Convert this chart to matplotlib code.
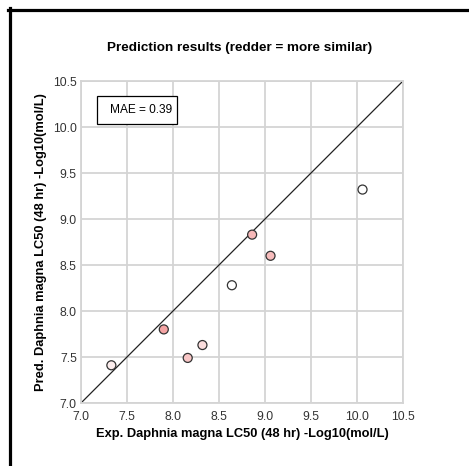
import matplotlib.pyplot as plt
from matplotlib.lines import Line2D
from matplotlib.patches import Rectangle

plt.rcParams['font.family'] = ['Liberation Sans', 'DejaVu Sans']

# valores
exp_vals = [7.33, 7.90, 8.16, 8.32, 8.64, 8.86, 9.06, 10.06]
pred_vals = [7.41, 7.80, 7.49, 7.63, 8.28, 8.83, 8.60, 9.32]
point_colors = ['#fdeeee', '#f4a4a4', '#f8c6c6', '#fbdede', '#ffffff', '#f6b8b8', '#f7bcbc', '#ffffff']
ticks = [7.0, 7.5, 8.0, 8.5, 9.0, 9.5, 10.0, 10.5]
mae = 0.39

fig = plt.figure(figsize=(4.69, 4.66), dpi=100)
ax = fig.add_axes([81/469, 63/466, 322/469, 322/466])

ax.set_xlim(7.0, 10.5)
ax.set_ylim(7.0, 10.5)
ax.set_xticks(ticks)
ax.set_yticks(ticks)
ax.set_xticklabels([f'{t:.1f}' for t in ticks])
ax.set_yticklabels([f'{t:.1f}' for t in ticks])
ax.tick_params(length=0, labelsize=8.8, colors='#333333')
ax.tick_params(axis='x', pad=6)
ax.tick_params(axis='y', pad=3)
ax.grid(True, color='#d4d4d4', linewidth=1.3)
ax.set_axisbelow(True)
for s in ax.spines.values():
    s.set_color('#d4d4d4')
    s.set_linewidth(1.3)

# linea y = x
ax.plot([7.0, 10.5], [7.0, 10.5], color='#222222', linewidth=0.9, zorder=2)

ax.scatter(exp_vals, pred_vals, s=42, c=point_colors, edgecolors='#333333',
           linewidths=0.9, zorder=3)

# caja MAE
ax.add_patch(Rectangle((7.17, 10.03), 0.87, 0.31, facecolor='white',
                       edgecolor='black', linewidth=0.9, zorder=4))
ax.text(7.99, 10.185, f'MAE = {mae:.2f}', ha='right', va='center',
        fontsize=8.6, zorder=5)

ax.set_xlabel('Exp. Daphnia magna LC50 (48 hr) -Log10(mol/L)', fontsize=9.3,
              fontweight='bold', labelpad=3)
ax.set_ylabel('Pred. Daphnia magna LC50 (48 hr) -Log10(mol/L)', fontsize=9.3,
              fontweight='bold', labelpad=4)
fig.text(240/469, 1 - 48/466, 'Prediction results (redder = more similar)',
         ha='center', va='center', fontsize=9.7, fontweight='bold')

# borde negro superior e izquierdo
fig.add_artist(Line2D([8/469, 1], [1 - 9.5/466, 1 - 9.5/466], color='black',
                      linewidth=2.3, transform=fig.transFigure))
fig.add_artist(Line2D([9.5/469, 9.5/469], [0, 1 - 8/466], color='black',
                      linewidth=2.3, transform=fig.transFigure))

fig.savefig('out.png', dpi=100)
